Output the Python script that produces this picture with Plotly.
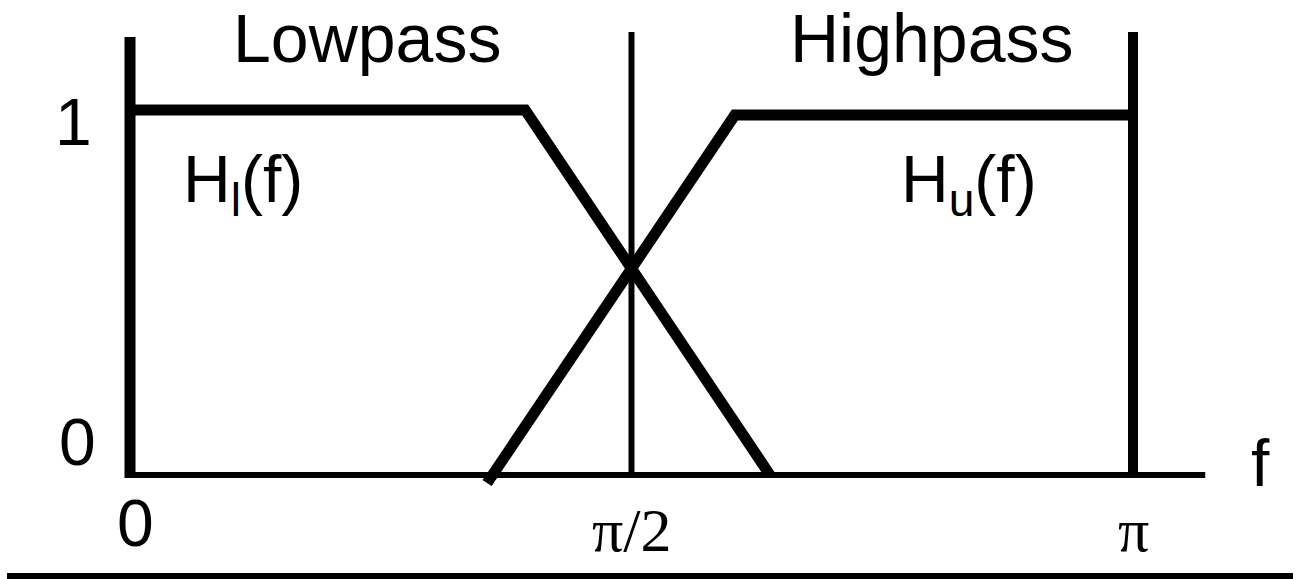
import plotly.graph_objects as go

# ---- data (x in units of pi, y = gain) ----
lowpass_x = [0.0, 0.394, 0.638]
lowpass_y = [1.0, 1.0, 0.0]
highpass_x = [0.356, 0.603, 1.0]
highpass_y = [-0.022, 0.986, 0.986]

x_tick_vals = [0.0, 0.5, 1.0]
x_tick_text = ["0", "π/2", "π"]
y_tick_vals = [1.0, 0.0]
y_tick_text = ["1", "0"]

band_labels = ["Lowpass", "Highpass"]
band_label_x = [0.236, 0.80]
resp_labels = ["H<sub>l</sub>(f)", "H<sub>u</sub>(f)"]
resp_label_x = [0.113, 0.836]

BLACK = "#000000"
fig = go.Figure()

# axes drawn as lines
fig.add_trace(go.Scatter(x=[0, 1.072], y=[0, 0], mode="lines",
                         line=dict(color=BLACK, width=6), hoverinfo="skip"))
fig.add_trace(go.Scatter(x=[0, 0], y=[-0.008, 1.2], mode="lines",
                         line=dict(color=BLACK, width=11), hoverinfo="skip"))
fig.add_trace(go.Scatter(x=[1, 1], y=[-0.008, 1.214], mode="lines",
                         line=dict(color=BLACK, width=10), hoverinfo="skip"))
fig.add_trace(go.Scatter(x=[0.5, 0.5], y=[0, 1.214], mode="lines",
                         line=dict(color=BLACK, width=6), hoverinfo="skip"))

# filters
fig.add_trace(go.Scatter(x=lowpass_x, y=lowpass_y, mode="lines",
                         line=dict(color=BLACK, width=11), hoverinfo="skip"))
fig.add_trace(go.Scatter(x=highpass_x, y=highpass_y, mode="lines",
                         line=dict(color=BLACK, width=11), hoverinfo="skip"))

ann = []
sans = "Liberation Sans, Arial, sans-serif"
serif = "Liberation Serif, Times New Roman, serif"
for t, x in zip(band_labels, band_label_x):
    ann.append(dict(x=x, y=1.198, text=t, showarrow=False,
                    font=dict(family=sans, size=68, color=BLACK),
                    xanchor="center", yanchor="middle"))
for t, x in zip(resp_labels, resp_label_x):
    ann.append(dict(x=x, y=0.798, text=t, showarrow=False,
                    font=dict(family=sans, size=66, color=BLACK),
                    xanchor="center", yanchor="middle"))
# y tick labels
y_label_pos = {1.0: (-0.056, 0.966), 0.0: (-0.052, 0.091)}
for v, t in zip(y_tick_vals, y_tick_text):
    px, py = y_label_pos[v]
    ann.append(dict(x=px, y=py, text=t, showarrow=False,
                    font=dict(family=sans, size=66, color=BLACK),
                    xanchor="center", yanchor="middle"))
# x tick labels
for v, t in zip(x_tick_vals, x_tick_text):
    is_sans = (t == "0")
    ann.append(dict(x=v + (0.005 if v == 0 else 0),
                    y=-0.131 if is_sans else -0.15, text=t, showarrow=False,
                    font=dict(family=sans if is_sans else serif,
                              size=66 if is_sans else 62, color=BLACK),
                    xanchor="center", yanchor="middle"))
# axis variable
ann.append(dict(x=1.127, y=0.034, text="f", showarrow=False,
                font=dict(family=sans, size=66, color=BLACK),
                xanchor="center", yanchor="middle"))

fig.update_layout(
    width=1298, height=579,
    margin=dict(l=0, r=0, t=0, b=0),
    paper_bgcolor="white", plot_bgcolor="white",
    showlegend=False,
    annotations=ann,
    shapes=[dict(type="line", xref="paper", yref="paper",
                 x0=7 / 1298, x1=1293 / 1298, y0=3 / 579, y1=3 / 579,
                 line=dict(color=BLACK, width=6))],
    xaxis=dict(range=[-130 / 1003, 1168 / 1003], visible=False, fixedrange=True),
    yaxis=dict(range=[-104 / 365, 475 / 365], visible=False, fixedrange=True),
)

fig.write_html("out.html", config={"displayModeBar": False},
               post_script="document.body.style.margin='0';document.body.style.overflow='hidden';")
